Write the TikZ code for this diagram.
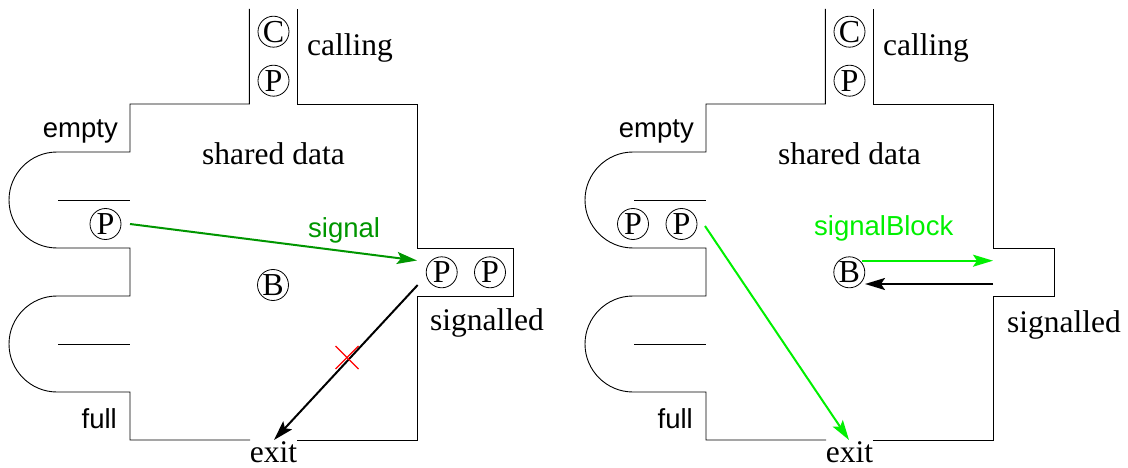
\documentclass[tikz,border=0pt]{standalone}
\usepackage{fontspec}
\setmainfont{Liberation Serif}
\newfontfamily\hvfont{Liberation Sans}
\usetikzlibrary{arrows.meta,calc}
\definecolor{dkgreen}{RGB}{0,150,0}
\definecolor{ltgreen}{RGB}{0,240,0}
\definecolor{xred}{RGB}{255,0,0}
\begin{document}
\begin{tikzpicture}[x=1pt,y=-1pt,
  wall/.style={line width=0.9pt, line join=miter},
  tok/.style={circle, draw, line width=0.8pt, minimum size=31pt, inner sep=0pt, font=\fontsize{32}{32}\selectfont},
  serif/.style={inner sep=0pt, font=\fontsize{31.5}{34}\selectfont},
  sans/.style={inner sep=0pt, font=\hvfont\fontsize{27.5}{30}\selectfont},
  arr/.style={line width=2pt, -{Stealth[length=20pt,width=12pt,inset=4pt]}},
  ]
\useasboundingbox (0,0) rectangle (1128,468);

% ---------------- left diagram ----------------
\draw[wall] (249.3,9) -- (249.3,104) -- (130,104) -- (130,152) -- (57,152)
  arc[start angle=90, end angle=270, radius=48pt] -- (130,248) -- (130,296) -- (57,296)
  arc[start angle=90, end angle=270, radius=48pt] -- (130,392) -- (130,440) -- (250,440);
\draw[wall] (297,440) -- (417,440) -- (417,296) -- (513,296) -- (513,248) -- (417,248)
  -- (417,104) -- (297.7,104) -- (297.7,9);
\draw[wall] (58,200.7) -- (130,200.7);
\draw[wall] (58,344) -- (130,344);

\node[tok] (lC) at (273.5,31.7) {C};
\node[tok] (lPc) at (273.5,80.7) {P};
\node[tok] (lPe) at (105.5,224) {P};
\node[tok] (lB) at (273,285) {B};
\node[tok] (lPs1) at (441.7,272.3) {P};
\node[tok] (lPs2) at (490,272.3) {P};

\node[serif, anchor=base west] (lcalling) at (307,56) {calling};
\node[serif, anchor=base west] (lshared) at (202,165) {shared data};
\node[sans, anchor=base east] (lempty) at (118,138) {empty};
\node[sans, anchor=base east] (lfull) at (117,428) {full};
\node[serif, anchor=base] (lexit) at (273.5,462) {exit};
\node[serif, anchor=base west] (lsignalled) at (430,330) {signalled};
\node[sans, anchor=base west, text=dkgreen] (lsignal) at (308,237) {signal};

\coordinate (g1s) at (130,224);
\coordinate (g1e) at (417,260.5);
\coordinate (b1s) at (417.7,285);
\coordinate (b1e) at (274,440);
\draw[arr, dkgreen] (g1s) -- (g1e);
\draw[arr, black] (b1s) -- (b1e);
\coordinate (xc) at (347,357.5);
\draw[xred, line width=1.3pt] ($(xc)+(-11.5,-11.5)$) -- ($(xc)+(11.5,11.5)$)
  ($(xc)+(-11.5,11.5)$) -- ($(xc)+(11.5,-11.5)$);

% ---------------- right diagram ----------------
\begin{scope}[xshift=576pt]
\draw[wall] (249.3,9) -- (249.3,104) -- (130,104) -- (130,152) -- (57,152)
  arc[start angle=90, end angle=270, radius=48pt] -- (130,248) -- (130,296) -- (57,296)
  arc[start angle=90, end angle=270, radius=48pt] -- (130,392) -- (130,440) -- (250,440);
\draw[wall] (297,440) -- (417,440) -- (417,296) -- (478,296) -- (478,248) -- (417,248)
  -- (417,104) -- (297.7,104) -- (297.7,9);
\draw[wall] (58,200.7) -- (130,200.7);
\draw[wall] (58,344) -- (130,344);

\node[tok] (rC) at (273.5,31.7) {C};
\node[tok] (rPc) at (273.5,80.7) {P};
\node[tok] (rPe1) at (57,224) {P};
\node[tok] (rPe2) at (105.5,224) {P};
\node[tok] (rB) at (273.3,272.3) {B};

\node[serif, anchor=base west] (rcalling) at (307,56) {calling};
\node[serif, anchor=base west] (rshared) at (202,165) {shared data};
\node[sans, anchor=base east] (rempty) at (118,138) {empty};
\node[sans, anchor=base east] (rfull) at (117,428) {full};
\node[serif, anchor=base] (rexit) at (273.5,462) {exit};
\node[serif, anchor=base west] (rsignalled) at (431,332) {signalled};
\node[sans, anchor=base west, text=ltgreen] (rsignalblock) at (238,236) {signalBlock};

\coordinate (g2s) at (129,226);
\coordinate (g2e) at (273,440);
\coordinate (g3s) at (286,260.7);
\coordinate (g3e) at (417,260.7);
\coordinate (b2s) at (417,284);
\coordinate (b2e) at (289,284);
\draw[arr, ltgreen] (g2s) -- (g2e);
\draw[arr, ltgreen] (g3s) -- (g3e);
\draw[arr, black] (b2s) -- (b2e);
\end{scope}
\end{tikzpicture}
\end{document}
